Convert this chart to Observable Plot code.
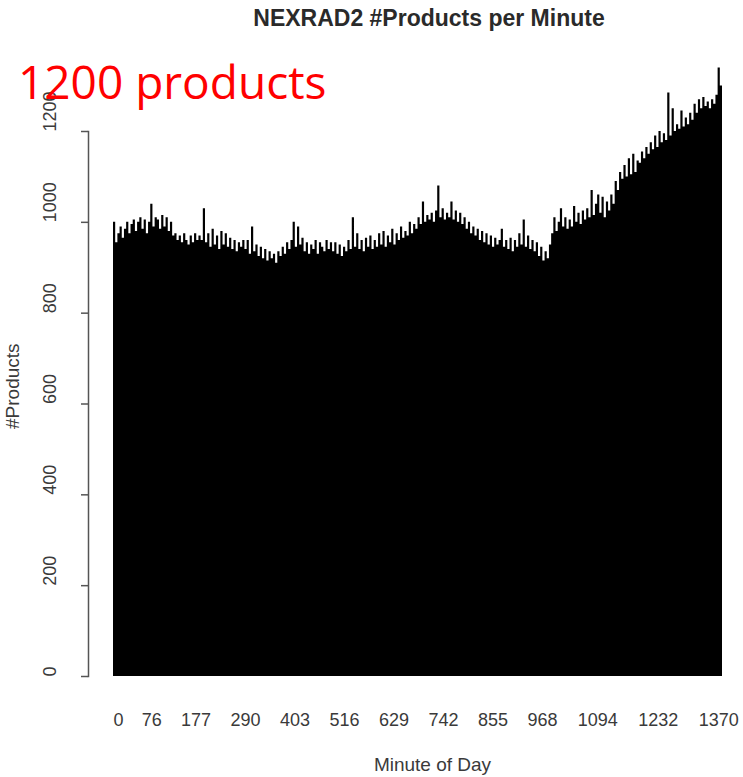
<!DOCTYPE html>
<html>
<head>
<meta charset="utf-8">
<script src="https://cdn.jsdelivr.net/npm/d3@7"></script>
<script src="https://cdn.jsdelivr.net/npm/@observablehq/plot@0.6"></script>
<style>
  html, body { margin: 0; padding: 0; background: #fff; }
  #wrap { position: relative; width: 743px; height: 777px; overflow: hidden; }
  #title { position: absolute; left: 0; width: 858px; top: 5px; text-align: center;
           font: bold 23px "Liberation Sans", Arial, sans-serif; color: #2a2a2a; }
  #note { position: absolute; left: 18px; top: 50px;
          font: 46px "Open Sans", sans-serif; color: #ff0000; white-space: nowrap; }
  #chart { position: absolute; left: 0; top: 0; }
</style>
</head>
<body>
<div id="wrap">
  <div id="chart"></div>
  <div id="title">NEXRAD2 #Products per Minute</div>
  <div id="note">1200 products</div>
</div>
<script>
// Products per minute, read in 5-minute bins (bin start minute = index * 5)
const binWidth = 5;
const productsPerBin = [
  // 0-95
  1000, 955, 975, 990, 965, 985, 1000, 975, 995, 1005, 980, 1000, 1010, 985, 1005, 975, 1000, 1040, 990, 1010,
  // 100-195
  1005, 985, 1015, 990, 1010, 980, 1000, 970, 975, 960, 970, 955, 975, 960, 950, 970, 955, 975, 960, 970,
  // 200-295
  960, 1030, 955, 975, 945, 985, 950, 970, 940, 980, 950, 975, 945, 965, 940, 960, 935, 955, 945, 960,
  // 300-395
  940, 960, 930, 990, 935, 950, 925, 945, 920, 940, 915, 935, 920, 930, 910, 935, 925, 945, 930, 955,
  // 400-495
  940, 960, 1000, 945, 990, 950, 965, 935, 955, 930, 950, 940, 960, 930, 955, 945, 935, 960, 940, 955,
  // 500-595
  935, 955, 930, 950, 925, 945, 935, 960, 940, 1010, 945, 975, 940, 960, 935, 965, 945, 970, 940, 960,
  // 600-695
  945, 975, 950, 980, 945, 970, 955, 985, 950, 975, 960, 990, 965, 980, 970, 1000, 975, 995, 985, 1010,
  // 700-795
  995, 1045, 1000, 1015, 1005, 1020, 1000, 1025, 1080, 1010, 1030, 1005, 1020, 1010, 1045, 1005, 1025, 1000, 1020, 995,
  // 800-895
  1010, 985, 1000, 975, 990, 970, 985, 960, 980, 955, 975, 950, 970, 945, 965, 950, 960, 985, 945, 960,
  // 900-995
  940, 965, 935, 960, 945, 975, 950, 1005, 945, 970, 940, 960, 935, 955, 925, 945, 915, 935, 920, 950,
  // 1000-1095
  975, 1010, 980, 1000, 1030, 990, 1010, 985, 1005, 990, 1035, 1000, 1020, 995, 1025, 1005, 1030, 1010, 1070, 1015,
  // 1100-1195
  1040, 1060, 1020, 1055, 1010, 1045, 1025, 1060, 1040, 1090, 1070, 1110, 1095, 1125, 1100, 1140, 1105, 1150, 1110, 1135,
  // 1200-1295
  1130, 1155, 1140, 1165, 1150, 1175, 1160, 1190, 1165, 1200, 1175, 1195, 1180, 1285, 1190, 1250, 1200, 1215, 1205, 1245,
  // 1300-1385
  1210, 1230, 1215, 1240, 1225, 1260, 1240, 1270, 1250, 1275, 1255, 1265, 1250, 1270, 1260, 1280, 1340, 1300
];
const xTickLabels = [0, 76, 177, 290, 403, 516, 629, 742, 855, 968, 1094, 1232, 1370];
const yTickValues = [0, 200, 400, 600, 800, 1000, 1200];
const xLabel = "Minute of Day";
const yLabel = "#Products";

// step outline: each bin starts at its minute; the final bin closes at its end minute
const steps = productsPerBin.map((v, i) => ({minute: i * binWidth, v}));
const lastMinute = productsPerBin.length * binWidth;
steps.push({minute: lastMinute, v: productsPerBin[productsPerBin.length - 1]});

const font = '"Liberation Sans", Arial, sans-serif';
const axisColor = "#555";
const textColor = "#3a3a3a";

const chart = Plot.plot({
  width: 743,
  height: 777,
  marginLeft: 88,
  marginRight: 21,
  marginTop: 131,
  marginBottom: 101,
  insetLeft: 25,
  style: {fontFamily: font, background: "white"},
  x: {domain: [0, lastMinute], axis: null},
  y: {domain: [0, 1200], axis: null},
  marks: [
    Plot.areaY(steps, {x: "minute", y1: 0, y2: "v", curve: "step-after", fill: "black"}),
    Plot.frame({anchor: "left", stroke: axisColor, strokeWidth: 1.5}),
    Plot.axisY({ticks: yTickValues, tickSize: 7, tickFormat: () => "", stroke: axisColor, strokeWidth: 1.5, label: null}),
    Plot.text(yTickValues, {y: d => d, text: d => String(d), frameAnchor: "left", dx: -38, rotate: -90,
      fontSize: 18, fill: textColor}),
    Plot.axisX({ticks: xTickLabels, tickSize: 0, tickPadding: 37, dx: 5, fontSize: 18, fill: textColor,
      tickFormat: d => String(d), label: null}),
    Plot.text([xLabel], {frameAnchor: "bottom", dx: 27, dy: 94, fontSize: 19, fill: textColor, text: d => d}),
    Plot.text([yLabel], {frameAnchor: "left", dx: -76, dy: 25, rotate: -90, fontSize: 19, fill: textColor, text: d => d})
  ]
});
document.getElementById("chart").appendChild(chart);
</script>
</body>
</html>
